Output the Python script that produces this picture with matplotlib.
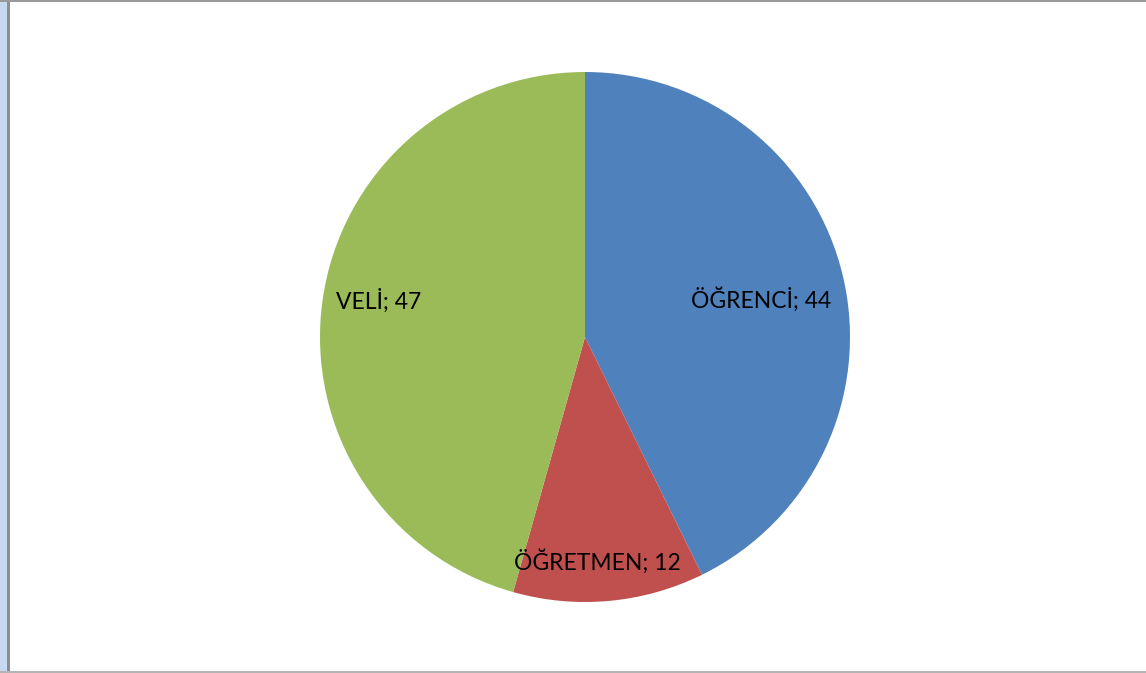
import matplotlib.pyplot as plt
from matplotlib.patches import Rectangle
import numpy as np

labels = ["ÖĞRENCİ", "ÖĞRETMEN", "VELİ"]
values = [44, 12, 47]
colors = ["#4F81BD", "#C0504D", "#9BBB59"]
# label placement: radius fraction and angle shift (deg) from wedge middle
label_r = [0.68, 0.85, 0.79]
label_shift = [-1.2, -2.1, -2.2]

W, H = 1146, 673
fig = plt.figure(figsize=(W / 100, H / 100), dpi=100)

# frame: light blue strip on the left, grey lines
fig.patches.append(Rectangle((0, 0), 7 / W, 1, transform=fig.transFigure,
                             facecolor="#C6D9F1", edgecolor="none"))
fig.patches.append(Rectangle((7 / W, 0), 2.5 / W, 1, transform=fig.transFigure,
                             facecolor="#8E8E8E", edgecolor="none"))
fig.patches.append(Rectangle((0, 1 - 2 / H), 1, 2 / H, transform=fig.transFigure,
                             facecolor="#9A9A9A", edgecolor="none"))
fig.patches.append(Rectangle((0, 0), 1, 2 / H, transform=fig.transFigure,
                             facecolor="#B4B4B4", edgecolor="none"))

cx, cy, r = 585, 337, 265
ax = fig.add_axes([(cx - r) / W, (H - cy - r) / H, 2 * r / W, 2 * r / H])
wedges, _ = ax.pie(values, colors=colors, startangle=90, counterclock=False,
                   radius=1, wedgeprops=dict(linewidth=0))
ax.set_xlim(-1, 1)
ax.set_ylim(-1, 1)
ax.set_aspect("equal")
ax.axis("off")

for w, lab, v, lr, sh in zip(wedges, labels, values, label_r, label_shift):
    ang = np.deg2rad((w.theta1 + w.theta2) / 2 + sh)
    ax.text(lr * np.cos(ang), lr * np.sin(ang), f"{lab}; {v}",
            ha="center", va="center", fontsize=16.5, family="Lato", color="black")

fig.savefig("out.png", dpi=100)
